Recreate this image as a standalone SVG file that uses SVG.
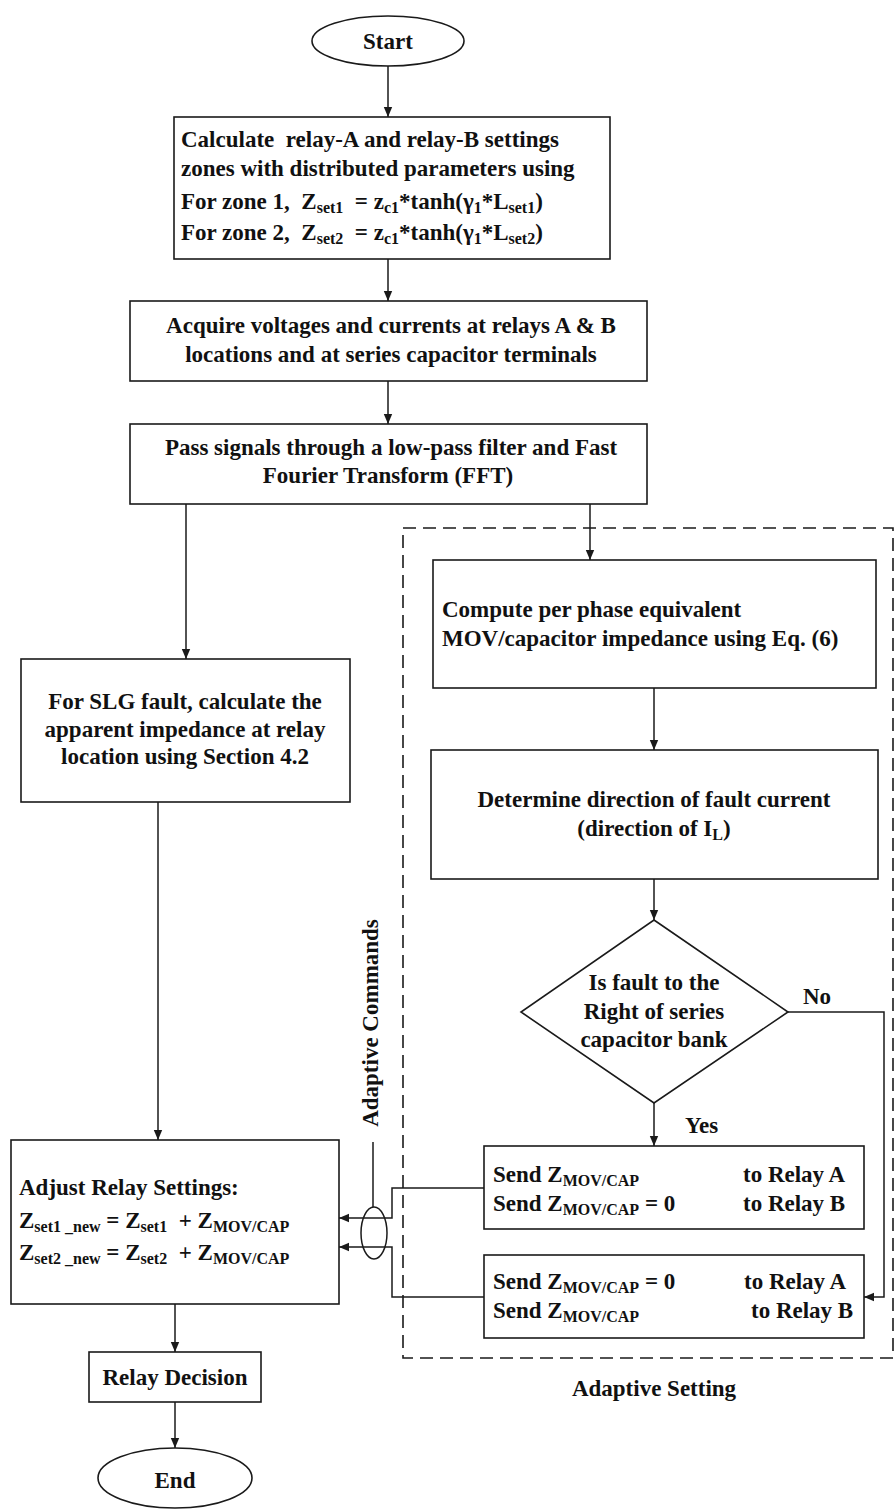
<svg xmlns="http://www.w3.org/2000/svg" width="896" height="1510" viewBox="0 0 896 1510">
  <style>
    .shape { fill: #fff; stroke: #1a1a1a; stroke-width: 1.6; }
    .wire { fill: none; stroke: #1a1a1a; stroke-width: 1.5; }
    .dash { fill: none; stroke: #1a1a1a; stroke-width: 1.6; stroke-dasharray: 13 7; }
    text { font-family: "Liberation Serif", "Times New Roman", serif; font-weight: bold; font-size: 23px; fill: #111; white-space: pre; }
    .c { text-anchor: middle; }
    .sub { font-size: 16px; }
  </style>
  <defs>
    <marker id="arrow" viewBox="0 0 10 10" refX="10" refY="5" markerWidth="10" markerHeight="10" markerUnits="userSpaceOnUse" orient="auto">
      <path d="M0,0.8 L10,5 L0,9.2 Z" fill="#1a1a1a"/>
    </marker>
  </defs>

  <rect width="896" height="1510" fill="#fff"/>

  <!-- adaptive setting frame -->
  <g id="adaptive-frame">
    <rect class="dash" x="403" y="528" width="490" height="830"/>
    <text class="c" x="654" y="1396">Adaptive Setting</text>
  </g>

  <!-- connectors -->
  <g id="connectors">
    <path class="wire" d="M388,66 V117" marker-end="url(#arrow)"/>
    <path class="wire" d="M388,259 V301" marker-end="url(#arrow)"/>
    <path class="wire" d="M388,381 V424" marker-end="url(#arrow)"/>
    <path class="wire" d="M186,504 V659" marker-end="url(#arrow)"/>
    <path class="wire" d="M590,504 V560" marker-end="url(#arrow)"/>
    <path class="wire" d="M158,802 V1140" marker-end="url(#arrow)"/>
    <path class="wire" d="M654,688 V750" marker-end="url(#arrow)"/>
    <path class="wire" d="M654,879 V920" marker-end="url(#arrow)"/>
    <path class="wire" d="M654,1103 V1146" marker-end="url(#arrow)"/>
    <path class="wire" d="M788,1012 H884 V1297 H864" marker-end="url(#arrow)"/>
    <path class="wire" d="M484,1188 H392 V1218 H339" marker-end="url(#arrow)"/>
    <path class="wire" d="M484,1297 H392 V1247 H339" marker-end="url(#arrow)"/>
    <path class="wire" d="M175,1304 V1352" marker-end="url(#arrow)"/>
    <path class="wire" d="M175,1402 V1448" marker-end="url(#arrow)"/>
    <!-- command bundle -->
    <path class="wire" d="M373,1142 V1207"/>
    <ellipse class="wire" cx="374" cy="1233" rx="13" ry="26"/>
    <text x="378" y="1023" class="c" transform="rotate(-90 378 1023)">Adaptive Commands</text>
    <text x="803" y="1004">No</text>
    <text x="685" y="1133">Yes</text>
  </g>

  <g id="start">
    <ellipse class="shape" cx="388" cy="41" rx="76" ry="25"/>
    <text class="c" x="388" y="49">Start</text>
  </g>

  <g id="zone-settings">
    <rect class="shape" x="174" y="117" width="436" height="142"/>
    <text x="181" y="147">Calculate  relay-A and relay-B settings</text>
    <text x="181" y="176">zones with distributed parameters using</text>
    <text x="181" y="209">For zone 1,  Z<tspan class="sub" dy="4">set1</tspan><tspan dy="-4">  = z</tspan><tspan class="sub" dy="4">c1</tspan><tspan dy="-4">*tanh(γ</tspan><tspan class="sub" dy="4">1</tspan><tspan dy="-4">*L</tspan><tspan class="sub" dy="4">set1</tspan><tspan dy="-4">)</tspan></text>
    <text x="181" y="240">For zone 2,  Z<tspan class="sub" dy="4">set2</tspan><tspan dy="-4">  = z</tspan><tspan class="sub" dy="4">c1</tspan><tspan dy="-4">*tanh(γ</tspan><tspan class="sub" dy="4">1</tspan><tspan dy="-4">*L</tspan><tspan class="sub" dy="4">set2</tspan><tspan dy="-4">)</tspan></text>
  </g>

  <g id="acquire">
    <rect class="shape" x="130" y="301" width="517" height="80"/>
    <text class="c" x="391" y="333">Acquire voltages and currents at relays A &amp; B</text>
    <text class="c" x="391" y="362">locations and at series capacitor terminals</text>
  </g>

  <g id="filter">
    <rect class="shape" x="130" y="424" width="517" height="80"/>
    <text class="c" x="391" y="455">Pass signals through a low-pass filter and Fast</text>
    <text class="c" x="388" y="483">Fourier Transform (FFT)</text>
  </g>

  <g id="apparent-impedance">
    <rect class="shape" x="21" y="659" width="329" height="143"/>
    <text class="c" x="185" y="709">For SLG fault, calculate the</text>
    <text class="c" x="185" y="737">apparent impedance at relay</text>
    <text class="c" x="185" y="764">location using Section 4.2</text>
  </g>

  <g id="mov-impedance">
    <rect class="shape" x="433" y="560" width="443" height="128"/>
    <text x="442" y="617">Compute per phase equivalent</text>
    <text x="442" y="646">MOV/capacitor impedance using Eq. (6)</text>
  </g>

  <g id="fault-direction">
    <rect class="shape" x="431" y="750" width="447" height="129"/>
    <text class="c" x="654" y="807">Determine direction of fault current</text>
    <text class="c" x="654" y="836">(direction of I<tspan class="sub" dy="4">L</tspan><tspan dy="-4">)</tspan></text>
  </g>

  <g id="fault-side">
    <path class="shape" d="M654,920 L788,1012 L654,1103 L521,1012 Z"/>
    <text class="c" x="654" y="990">Is fault to the</text>
    <text class="c" x="654" y="1019">Right of series</text>
    <text class="c" x="654" y="1047">capacitor bank</text>
  </g>

  <g id="send-right">
    <rect class="shape" x="484" y="1146" width="380" height="83"/>
    <text x="493" y="1182">Send Z<tspan class="sub" dy="4">MOV/CAP</tspan></text>
    <text x="743" y="1182">to Relay A</text>
    <text x="493" y="1211">Send Z<tspan class="sub" dy="4">MOV/CAP</tspan><tspan dy="-4"> = 0</tspan></text>
    <text x="743" y="1211">to Relay B</text>
  </g>

  <g id="send-left">
    <rect class="shape" x="484" y="1255" width="380" height="83"/>
    <text x="493" y="1289">Send Z<tspan class="sub" dy="4">MOV/CAP</tspan><tspan dy="-4"> = 0</tspan></text>
    <text x="744" y="1289">to Relay A</text>
    <text x="493" y="1318">Send Z<tspan class="sub" dy="4">MOV/CAP</tspan></text>
    <text x="751" y="1318">to Relay B</text>
  </g>

  <g id="adjust-settings">
    <rect class="shape" x="11" y="1140" width="328" height="164"/>
    <text x="19" y="1195">Adjust Relay Settings:</text>
    <text x="19" y="1228">Z<tspan class="sub" dy="4">set1 _new</tspan><tspan dy="-4"> = Z</tspan><tspan class="sub" dy="4">set1</tspan><tspan dy="-4">  + Z</tspan><tspan class="sub" dy="4">MOV/CAP</tspan></text>
    <text x="19" y="1260">Z<tspan class="sub" dy="4">set2 _new</tspan><tspan dy="-4"> = Z</tspan><tspan class="sub" dy="4">set2</tspan><tspan dy="-4">  + Z</tspan><tspan class="sub" dy="4">MOV/CAP</tspan></text>
  </g>

  <g id="relay-decision">
    <rect class="shape" x="89" y="1352" width="172" height="50"/>
    <text class="c" x="175" y="1385">Relay Decision</text>
  </g>

  <g id="end">
    <ellipse class="shape" cx="175" cy="1478" rx="77" ry="30"/>
    <text class="c" x="175" y="1488">End</text>
  </g>
</svg>
